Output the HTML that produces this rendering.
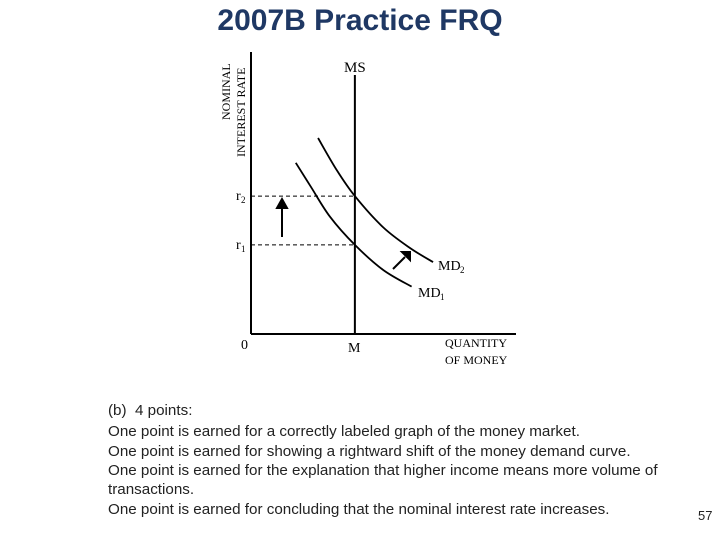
<!DOCTYPE html>
<html><head><meta charset="utf-8"><style>
body{margin:0;width:720px;height:540px;background:#fff;overflow:hidden;position:relative;font-family:"Liberation Sans",sans-serif}
.t{position:absolute;left:108px;font-size:15.2px;color:#222;white-space:nowrap}
</style></head><body>
<div style="position:absolute;left:0;width:720px;top:4px;text-align:center;font-size:30px;font-weight:bold;color:#1f3864">2007B Practice FRQ</div>
<svg width="720" height="400" style="position:absolute;left:0;top:0" font-family="Liberation Serif, serif">
<g id="g"></g>
</svg>
<div class="t" style="top:402px">(b)&nbsp; 4 points:</div>
<div class="t" style="top:423px">One point is earned for a correctly labeled graph of the money market.</div>
<div class="t" style="top:443px">One point is earned for showing a rightward shift of the money demand curve.</div>
<div class="t" style="top:462px">One point is earned for the explanation that higher income means more volume of</div>
<div class="t" style="top:481px;height:14px;overflow:hidden">transactions.</div>
<div class="t" style="top:501px">One point is earned for concluding that the nominal interest rate increases.</div>
<div style="position:absolute;left:698px;top:508px;font-size:13px;color:#222">57</div>
<script>
const md1Q=[16.9,22.6,29.8,39.2,49.9,60.6];
const md1R=[60.7,52.2,41.6,31.6,22.7,16.8];
const md2Q=[25.3,32.3,39.2,49.8,60,68.7];
const md2R=[69.5,58.2,48.9,37.9,30.5,25.5];
const msQ=39.2;
const r1=31.6, r2=48.9;
const X0=251,X1=516,Y0=334,Y1=52;
const xs=q=>X0+q*(X1-X0)/100, ys=r=>Y0-r*(Y0-Y1)/100;
const g=document.getElementById('g');const NS='http://www.w3.org/2000/svg';
function mk(t,a,txt){const e=document.createElementNS(NS,t);for(const k in a)e.setAttribute(k,a[k]);if(txt!==undefined)e.textContent=txt;g.appendChild(e);return e;}
function curve(Q,R){const p=Q.map((q,i)=>[xs(q),ys(R[i])]);let d='M'+p[0];
for(let i=0;i<p.length-1;i++){const p0=p[i-1]||p[i],p1=p[i],p2=p[i+1],p3=p[i+2]||p2;
d+=' C'+(p1[0]+(p2[0]-p0[0])/6)+','+(p1[1]+(p2[1]-p0[1])/6)+' '+(p2[0]-(p3[0]-p1[0])/6)+','+(p2[1]-(p3[1]-p1[1])/6)+' '+p2;}return d;}
let e;
e=mk('line',{x1:X0,y1:Y1,x2:X0,y2:Y0,stroke:'#000','stroke-width':2});

e=mk('line',{x1:X0,y1:Y0,x2:X1,y2:Y0,stroke:'#000','stroke-width':2});

e=mk('line',{x1:xs(msQ),y1:75,x2:xs(msQ),y2:Y0,stroke:'#000','stroke-width':2});

e=mk('line',{x1:X0,y1:ys(r2),x2:xs(msQ),y2:ys(r2),stroke:'#000','stroke-dasharray':'4,3'});

e=mk('line',{x1:X0,y1:ys(r1),x2:xs(msQ),y2:ys(r1),stroke:'#000','stroke-dasharray':'4,3'});

e=mk('path',{d:curve(md1Q,md1R),fill:'none',stroke:'#000','stroke-width':1.8});

e=mk('path',{d:curve(md2Q,md2R),fill:'none',stroke:'#000','stroke-width':1.8});

e=mk('path',{d:'M282,237 L282,206 M277,208 L282,199 L287,208 Z',stroke:'#000','stroke-width':2,fill:'#000'});

e=mk('path',{d:'M393,269 L405,257 M402,252 L410,252 L410,260 Z',stroke:'#000','stroke-width':2,fill:'#000'});

const labs=[['MS',344,72,15,'ms-label'],['r',236,200,14,'r2-label'],['r',236,249,14,'r1-label'],['0',241,349,14,'origin-label'],['M',348,352,14,'m-label'],['QUANTITY',445,347,12,'x-axis-title-1'],['OF MONEY',445,364,12,'x-axis-title-2'],['MD',438,270,14,'md2-label'],['MD',418,297,14,'md1-label']];
labs.forEach(l=>{e=mk('text',{x:l[1],y:l[2],'font-size':l[3]},l[0]);
});
[['2',241,203],['1',241,252],['2',460,273],['1',440,300]].forEach(s=>{e=mk('text',{x:s[1],y:s[2],'font-size':9},s[0]);
});
e=mk('text',{x:230,y:120,'font-size':12,transform:'rotate(-90 230 120)'},'NOMINAL');

e=mk('text',{x:245,y:157,'font-size':12,transform:'rotate(-90 245 157)'},'INTEREST RATE');

</script>
</body></html>
